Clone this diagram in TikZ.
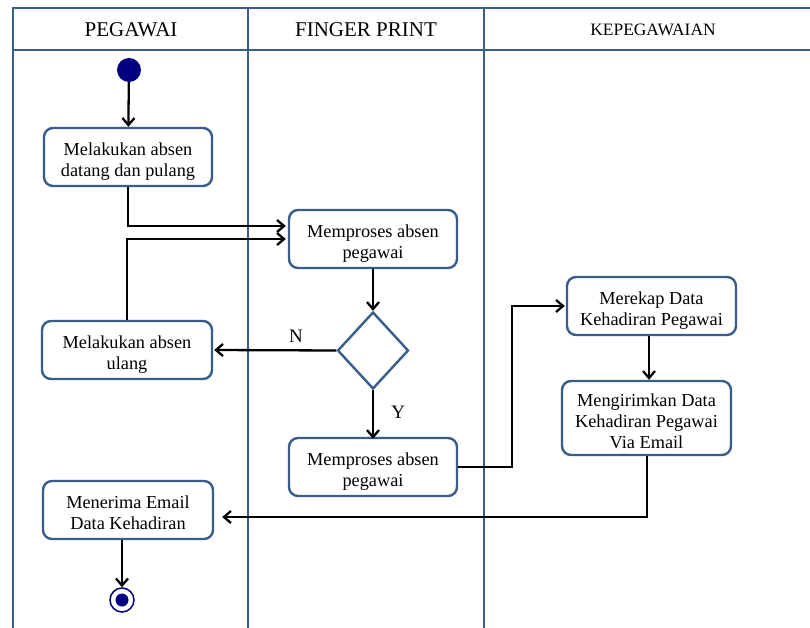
\documentclass[tikz,border=0pt]{standalone}
\usepackage{fontspec}
\setmainfont{Liberation Serif}
\usetikzlibrary{arrows.meta,shapes.geometric}

\definecolor{lane}{RGB}{56,93,138}
\definecolor{startfill}{RGB}{0,0,128}

% box text: a centred stack, drawn a little below the box centre
\newcommand\boxtext[1]{\raisebox{-5pt}[\height][\depth]{\begin{tabular}{@{}c@{}}#1\end{tabular}}}

\tikzset{
  laneline/.style={draw=lane, line width=2.6pt},
  lanehead/.style={font=\fontsize{21}{25}\selectfont, anchor=center},
  actbox/.style={draw=lane, line width=2.4pt, rounded corners=9pt, fill=white,
    inner sep=2pt, minimum width=168pt, minimum height=58pt,
    font=\fontsize{18.3}{21}\selectfont},
  decision/.style={draw=lane, line width=2.4pt, diamond, aspect=0.92,
    minimum width=71pt, minimum height=77pt, inner sep=0pt},
  flow/.style={draw=black, line width=2.3pt,
    -{Straight Barb[length=7pt,width=12pt,line width=2.3pt]}},
  guard/.style={font=\fontsize{19}{22}\selectfont},
}

\begin{document}
\begin{tikzpicture}[x=1pt,y=-1pt]
\useasboundingbox (0,0) rectangle (810,628);
\fill[white] (0,0) rectangle (810,628);

% swimlane frame
\draw[laneline] (13,628) -- (13,8) -- (810,8);
\draw[laneline] (13,50) -- (810,50);
\draw[laneline] (248,8) -- (248,628);
\draw[laneline] (484,8) -- (484,628);

\node[lanehead] (h1) at (131,30) {PEGAWAI};
\node[lanehead] (h2) at (366,30) {FINGER PRINT};
\node[lanehead, font=\fontsize{17.4}{20}\selectfont] (h3) at (653,30) {KEPEGAWAIAN};

% initial and final nodes
\node[circle, fill=startfill, minimum size=24pt, inner sep=0pt] (start) at (129,70) {};
\node[circle, draw=startfill, line width=1.5pt, fill=white, minimum size=24pt, inner sep=0pt] (end) at (122,600) {};
\node[circle, fill=startfill, minimum size=13pt, inner sep=0pt] (endin) at (122,600) {};

% activities
\node[actbox] (b1) at (128,157) {\boxtext{Melakukan absen\\datang dan pulang}};
\node[actbox] (b2) at (373,239) {\boxtext{Memproses absen\\pegawai}};
\node[actbox, minimum width=170pt] (b3) at (127,350) {\boxtext{Melakukan absen\\ulang}};
\node[decision] (d) at (373,350.5) {};
\node[actbox] (b5) at (373,467) {\boxtext{Memproses absen\\pegawai}};
\node[actbox, minimum width=169pt] (b6) at (651.5,306) {\boxtext{Merekap Data\\Kehadiran Pegawai}};
\node[actbox, minimum width=169pt, minimum height=74pt] (b7) at (646.5,418) {\boxtext{Mengirimkan Data\\Kehadiran Pegawai\\Via Email}};
\node[actbox, minimum width=170pt] (b8) at (128,510) {\boxtext{Menerima Email\\Data Kehadiran}};

% routing points
\coordinate (k1) at (512,467);
\coordinate (k2) at (647,517);
\coordinate (c67) at (649,0);

% flows
\draw[flow] (start) -- (b1);
\draw[flow] (b1.south) |- ([yshift=13pt,xshift=-2pt]b2.west);
\draw[flow] (b3.north) |- ([xshift=-2pt]b2.west);
\draw[flow] (b2) -- (d);
\draw[flow] (d.west) -- node[guard, pos=0.33, above=3pt] {N} ([xshift=1pt]b3.east);
\draw[flow] (d.south) -- node[guard, pos=0.45, right=14pt] {Y} ([yshift=-2pt]b5.north);
\draw[flow] (b5.east) -- (k1) |- ([xshift=-1pt]b6.west);
\draw[flow] (b6.south -| c67) -- (b7.north -| c67);
\draw[flow] (b7.south -| k2) -- (k2) -- ([xshift=8pt]b8.east |- k2);
\draw[flow] (b8.south -| end) -- (end);
\end{tikzpicture}
\end{document}
